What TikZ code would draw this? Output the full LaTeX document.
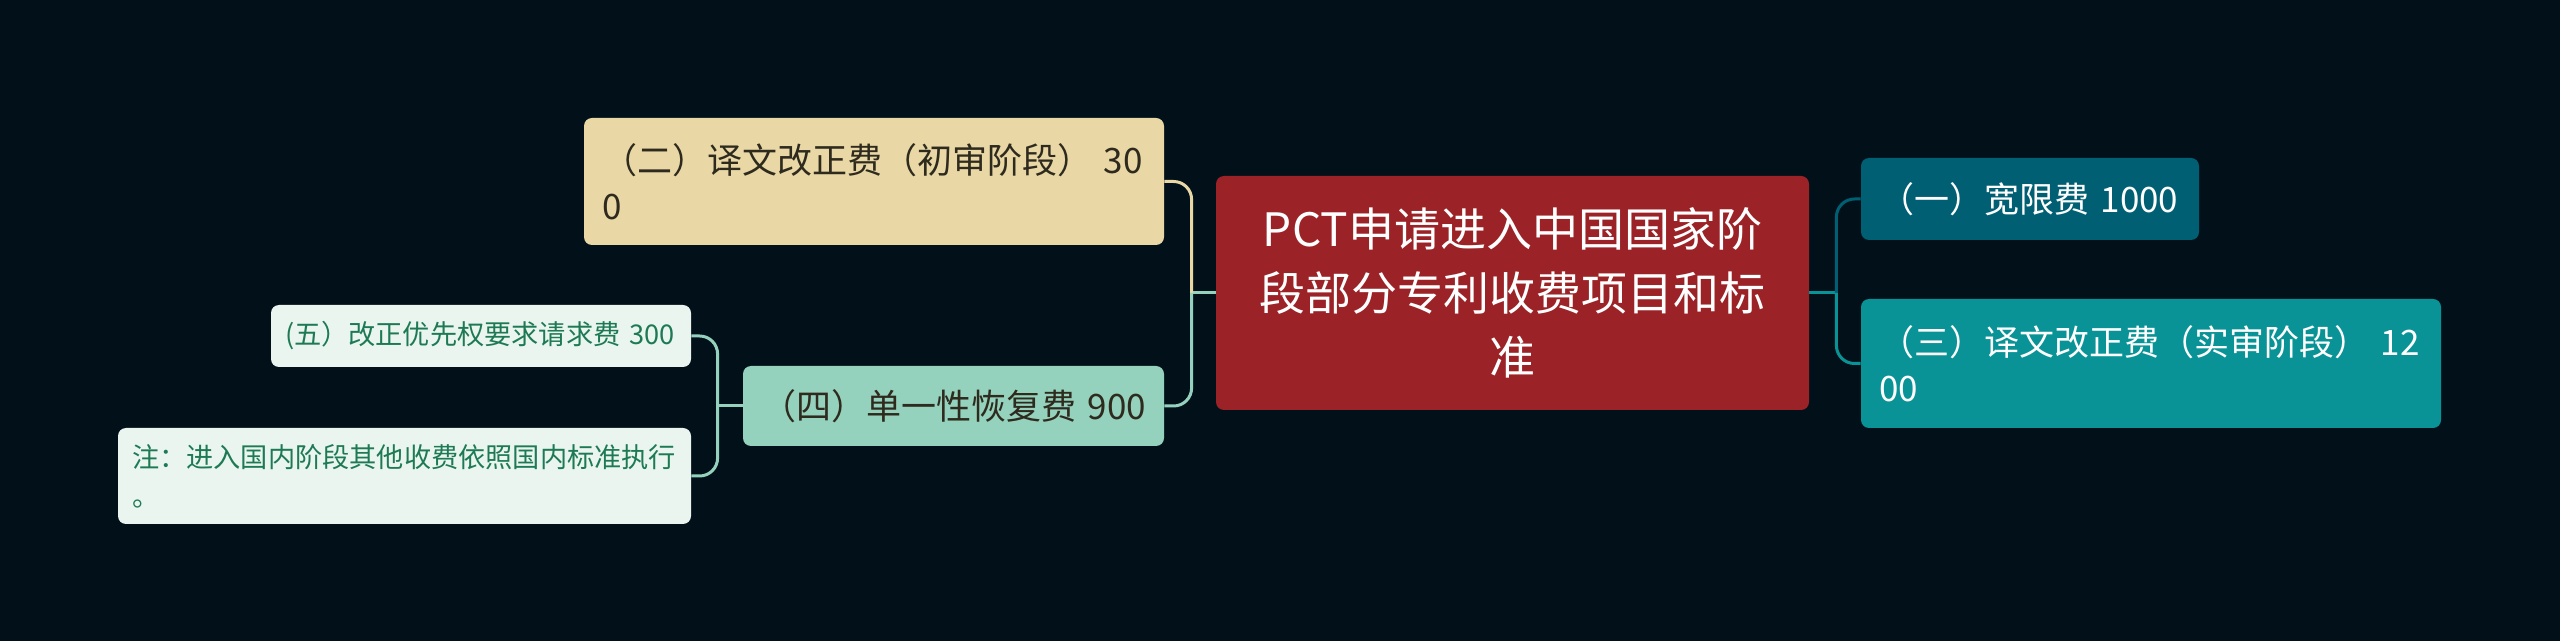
\documentclass[tikz,border=0pt]{standalone}
\usepackage{fontspec}
\setmainfont{Noto Sans CJK SC}
\usetikzlibrary{positioning}

\definecolor{bgdark}{HTML}{021119}
\definecolor{rootred}{HTML}{9B2226}
\definecolor{tealdark}{HTML}{005F73}
\definecolor{tealmid}{HTML}{0A9396}
\definecolor{sand}{HTML}{E9D8A6}
\definecolor{mint}{HTML}{94D2BD}
\definecolor{paleleaf}{HTML}{EAF5F0}
\definecolor{leafink}{HTML}{1E7A55}
\definecolor{darkink}{HTML}{2E2A1E}

\begin{document}
\begin{tikzpicture}
		[x=1pt,y=1pt,
		box/.style={rectangle,rounded corners=4pt,inner xsep=9pt,inner ysep=0pt,align=left},
		topic/.style={box,fill=rootred,text=white,align=center,font=\fontsize{23}{32}\selectfont},
		branch/.style={box,font=\fontsize{17.5}{23}\selectfont},
		leaf/.style={box,fill=paleleaf,text=leafink,inner xsep=7pt,font=\fontsize{13.6}{19.6}\selectfont},
		link/.style={line width=1.5pt,rounded corners=9pt}]
		\fill [bgdark] (0,0) rectangle (1280,-320.5);
		\useasboundingbox (0,0) rectangle (1280,-320.5);

		\node [topic,text width=278.5pt,minimum height=117pt] (root) at (756.25,-146.5)
			{PCT申请进入中国国家阶\\段部分专利收费项目和标\\准};

		\node [branch,fill=tealdark,text=white,text width=151pt,minimum height=41pt] (fee1) at (1015,-99.5)
			{（一）宽限费 1000};
		\node [branch,fill=tealmid,text=white,text width=272pt,minimum height=64.5pt] (fee3) at (1075.5,-181.75)
			{（三）译文改正费（实审阶段） 12\\00};
		\node [branch,fill=sand,text=darkink,text width=272pt,minimum height=63.5pt] (fee2) at (437,-90.75)
			{（二）译文改正费（初审阶段） 30\\0};
		\node [branch,fill=mint,text=darkink,text width=192.5pt,minimum height=40pt] (fee4) at (476.75,-203)
			{（四）单一性恢复费 900};

		\node [leaf,text width=196pt,minimum height=31pt] (fee5) at (240.5,-168)
			{(五）改正优先权要求请求费 300};
		\node [leaf,text width=272.5pt,minimum height=48pt] (note) at (202.25,-238)
			{注：进入国内阶段其他收费依照国内标准执行\\。};

		\coordinate [left=12pt of root.west] (jleft);
		\coordinate [right=13.5pt of root.east] (jright);
		\coordinate [left=12.5pt of fee4.west] (jfee4);

		\draw [link,mint] (root.west) -- (jleft);
		\draw [link,sand] (jleft) |- (fee2.east);
		\draw [link,mint] (jleft) |- (fee4.east);
		\draw [link,tealmid] (root.east) -- (jright);
		\draw [link,tealdark] (jright) |- (fee1.west);
		\draw [link,tealmid] (jright) |- (fee3.west);
		\draw [link,mint] (fee4.west) -- (jfee4);
		\draw [link,mint] (jfee4) |- (fee5.east);
		\draw [link,mint] (jfee4) |- (note.east);

	\end{tikzpicture}
\end{document}
